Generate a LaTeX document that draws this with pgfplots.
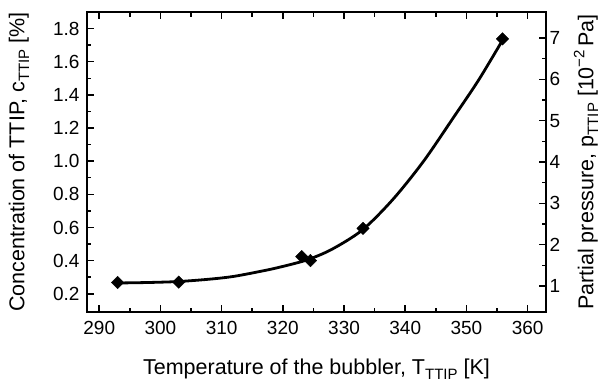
\documentclass[border=0pt]{standalone}
\usepackage{pgfplots}
\pgfplotsset{compat=1.18}
\usepackage{fontspec}
\setmainfont{Liberation Sans}
\newcommand\sub[1]{\raisebox{-0.22em}{\fontsize{15}{15}\selectfont #1}}
\newcommand\sups[1]{\raisebox{0.42em}{\fontsize{15}{15}\selectfont #1}}
\begin{document}
\begin{tikzpicture}
\begin{axis}[
  name=main,
  scale only axis, width=459pt, height=300pt,
  xmin=288, xmax=363, ymin=0.09, ymax=1.9,
  xtick={290,300,310,320,330,340,350,360}, minor x tick num=1,
  ytick={0.2,0.4,0.6,0.8,1.0,1.2,1.4,1.6,1.8}, minor y tick num=1,
  xtick pos=both, ytick pos=left,
  tick align=inside,
  major tick length=7pt, minor tick length=4.5pt,
  every tick/.style={black, line width=1.5pt},
  axis line style={line width=1.6pt},
  tick label style={font=\fontsize{19}{22}\selectfont},
  label style={font=\fontsize{21.5}{24}\selectfont},
  /pgf/number format/assume math mode=true,
  yticklabel style={/pgf/number format/fixed, /pgf/number format/fixed zerofill, /pgf/number format/precision=1, xshift=-4pt},
  xticklabel style={/pgf/number format/1000 sep={}, yshift=-6pt},
  xlabel={Temperature of the bubbler, T\sub{TTIP} [K]},
  ylabel={Concentration of TTIP, c\sub{TTIP} [\%]},
  xlabel style={at={(axis description cs:0.5,-0.19)}, anchor=center},
  ylabel style={at={(axis description cs:-0.148,0.5)}, anchor=center},
]
\addplot[black, line width=2.8pt, smooth, no markers] coordinates {
 (293,0.265) (298,0.268) (303,0.274) (308,0.288) (312,0.305) (317,0.34)
 (320,0.365) (324,0.405) (328,0.468) (333,0.585) (338,0.77) (343,1.0)
 (348,1.27) (352,1.49) (355.9,1.73)
};
\addplot[only marks, mark=square*, mark size=4.4pt, mark options={rotate=45}, black] coordinates {
 (293,0.268) (303,0.27) (323.1,0.424) (324.5,0.40) (333.1,0.594) (355.9,1.738)
};
\end{axis}
\begin{axis}[
  scale only axis, width=459pt, height=300pt,
  xmin=288, xmax=363, ymin=0.37, ymax=7.63,
  axis x line=none, axis y line*=right,
  ytick={1,2,3,4,5,6,7}, minor y tick num=1,
  tick align=inside,
  major tick length=7pt, minor tick length=4.5pt,
  every tick/.style={black, line width=1.5pt},
  axis line style={-, line width=1.6pt},
  tick label style={font=\fontsize{19}{22}\selectfont},
  label style={font=\fontsize{21.5}{24}\selectfont},
  yticklabel style={xshift=0pt},
  /pgf/number format/assume math mode=true,
  ylabel={Partial pressure, p\sub{TTIP} [10\sups{−2}\,Pa]},
  ylabel style={at={(axis description cs:1.087,0.5)}, anchor=center},
]
\end{axis}
\pgfresetboundingbox
\path[use as bounding box] ([xshift=-87pt,yshift=-69pt]main.south west) rectangle ([xshift=57pt,yshift=12pt]main.north east);
\end{tikzpicture}
\end{document}
